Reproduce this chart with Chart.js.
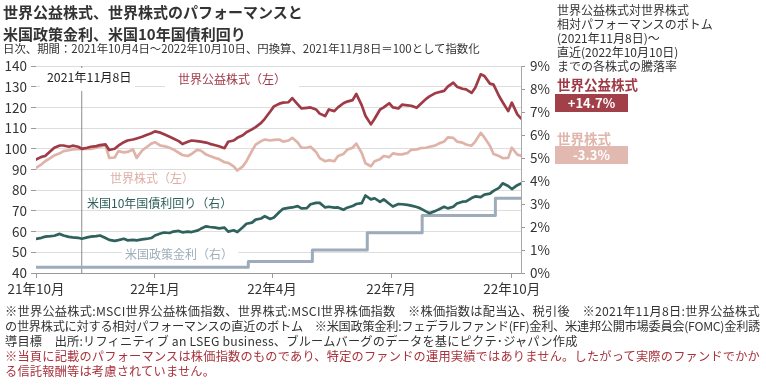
<!DOCTYPE html>
<html><head><meta charset="utf-8">
<script src="https://cdn.jsdelivr.net/npm/chart.js@4.4.1/dist/chart.umd.min.js"></script>
<style>
html,body{margin:0;padding:0;background:#fff}
body{width:766px;height:390px;position:relative;overflow:hidden;font-family:"Noto Sans CJK JP","Noto Sans",sans-serif;color:#333}
canvas{position:absolute;left:0;top:0}
.t{position:absolute;white-space:nowrap}
.box{position:absolute;background:#fff}
.badge{position:absolute;color:#fff;font-weight:bold;text-align:center}
</style></head>
<body>
<canvas id="c" width="766" height="390"></canvas>

<div class="t" style="left:3px;top:3px;font-size:15px;font-weight:bold;line-height:18px;color:#333">世界公益株式、世界株式のパフォーマンスと</div>
<div class="t" style="left:3px;top:25px;font-size:15px;font-weight:bold;line-height:18px;color:#333">米国政策金利、米国10年国債利回り</div>
<div class="t" style="left:3px;top:41px;font-size:11.4px;line-height:14px;color:#333">日次、期間：2021年10月4日～2022年10月10日、円換算、2021年11月8日＝100として指数化</div>

<div class="t" style="left:557px;top:3px;font-size:12px;line-height:14px;color:#333">世界公益株式対世界株式<br>相対パフォーマンスのボトム<br>(2021年11月8日)～<br>直近(2022年10月10日)<br>までの各株式の騰落率</div>
<div class="t" style="left:557px;top:76px;font-size:13.5px;font-weight:bold;line-height:16px;color:#9f3a47">世界公益株式</div>
<div class="badge" style="left:555px;top:94px;width:73px;height:18px;line-height:18px;font-size:13px;background:#a2404a">+14.7%</div>
<div class="t" style="left:557px;top:130px;font-size:13.5px;font-weight:bold;line-height:16px;color:#e0b5ab">世界株式</div>
<div class="badge" style="left:555px;top:146px;width:73px;height:18px;line-height:18px;font-size:13px;background:#e2b9b0">-3.3%</div>

<!-- in-chart labels -->
<div class="box" style="left:40px;top:68px;width:95px;height:23px"></div>
<div class="t" style="left:47px;top:69px;font-size:12.3px;line-height:16px;color:#222">2021年11月8日</div>
<div class="box" style="left:165px;top:68px;width:134px;height:23px"></div>
<div class="t" style="left:178px;top:71px;font-size:12px;line-height:16px;color:#9f3a47">世界公益株式（左）</div>
<div class="t" style="left:110px;top:170px;font-size:12px;line-height:16px;color:#dcaea4">世界株式（左）</div>
<div class="t" style="left:87px;top:195px;font-size:12px;line-height:16px;color:#2f5f5b">米国10年国債利回り（右）</div>
<div class="box" style="left:122px;top:246px;width:116px;height:16px"></div>
<div class="t" style="left:125px;top:246px;font-size:12px;line-height:16px;color:#9fadbb">米国政策金利（右）</div>

<div id="fn" class="t" style="left:5px;top:304px;font-size:12.2px;line-height:15px;color:#333">
<div class="fl" data-w="755">※世界公益株式:MSCI世界公益株価指数、世界株式:MSCI世界株価指数　※株価指数は配当込、税引後　※2021年11月8日:世界公益株式</div>
<div class="fl" data-w="755">の世界株式に対する相対パフォーマンスの直近のボトム　※米国政策金利:フェデラルファンド(FF)金利、米連邦公開市場委員会(FOMC)金利誘</div>
<div class="fl">導目標　出所:リフィニティブ an LSEG business、ブルームバーグのデータを基にピクテ･ジャパン作成</div>
<div class="fl" data-w="755" style="color:#a8323c">※当頁に記載のパフォーマンスは株価指数のものであり、特定のファンドの運用実績ではありません。したがって実際のファンドでかか</div>
<div class="fl" style="color:#a8323c">る信託報酬等は考慮されていません。</div>
</div>

<script>
// ---------- data ----------
const dates = [
'2021-10-04','2021-10-07','2021-10-11','2021-10-14','2021-10-18','2021-10-21','2021-10-25','2021-10-28',
'2021-11-01','2021-11-04','2021-11-08','2021-11-11','2021-11-15','2021-11-18','2021-11-22','2021-11-25',
'2021-11-29','2021-12-02','2021-12-06','2021-12-09','2021-12-13','2021-12-16','2021-12-20','2021-12-23',
'2021-12-27','2021-12-30','2022-01-03','2022-01-06','2022-01-10','2022-01-13','2022-01-17','2022-01-20',
'2022-01-24','2022-01-27','2022-01-31','2022-02-03','2022-02-07','2022-02-10','2022-02-14','2022-02-17',
'2022-02-21','2022-02-24','2022-02-28','2022-03-03','2022-03-07','2022-03-10','2022-03-14','2022-03-17',
'2022-03-21','2022-03-24','2022-03-28','2022-03-31','2022-04-04','2022-04-07','2022-04-11','2022-04-14',
'2022-04-18','2022-04-21','2022-04-25','2022-04-28','2022-05-02','2022-05-05','2022-05-09','2022-05-12',
'2022-05-16','2022-05-19','2022-05-23','2022-05-26','2022-05-30','2022-06-02','2022-06-06','2022-06-09',
'2022-06-13','2022-06-16','2022-06-20','2022-06-23','2022-06-27','2022-06-30','2022-07-04','2022-07-07',
'2022-07-11','2022-07-14','2022-07-18','2022-07-21','2022-07-25','2022-07-28','2022-08-01','2022-08-04',
'2022-08-08','2022-08-11','2022-08-15','2022-08-18','2022-08-22','2022-08-25','2022-08-29','2022-09-01',
'2022-09-05','2022-09-08','2022-09-12','2022-09-15','2022-09-19','2022-09-22','2022-09-26','2022-09-29',
'2022-10-03','2022-10-06','2022-10-10'];

// 世界公益株式 (left axis, 2021/11/8 = 100)
const utilities = [
94.8,96.1, 96.5,98.9, 100.5,101.6, 101.6,101.0, 101.5,101.0, 100.0,100.5, 101.0,101.3, 101.8,102.1,
99.4,100.0, 101.5,103.2, 104.0,104.5, 105.0,105.8, 106.5,107.5, 108.4,107.8, 107.0,105.8, 105.0,103.7,
102.3,103.4, 104.0,103.7, 103.5,103.0, 102.4,101.7, 101.2,100.3, 103.4,104.0, 105.3,106.5, 108.0,109.4,
110.5,112.5, 114.5,118.0, 120.5,121.8, 122.3,122.5, 124.5,121.5, 119.5,119.8, 120.0,119.0, 117.0,115.8,
119.0,118.2, 120.0,122.0, 122.8,123.5, 126.5,121.0, 116.0,111.8, 114.5,119.0, 120.0,122.0, 120.0,119.5,
121.3,121.0, 120.8,119.8, 121.5,124.0, 125.3,126.8, 127.3,128.0, 130.0,132.0, 130.0,129.0, 128.7,127.0,
129.5,136.0, 135.2,131.5, 131.0,125.5, 122.5,118.2, 122.3,116.6, 114.7];

// 世界株式 (left axis)
const world = [
90.8,92.5, 94.0,95.6, 96.8,97.8, 98.9,99.3, 99.7,99.8, 100.0,100.0, 100.0,100.5, 101.0,101.6,
95.6,95.8, 98.9,98.3, 98.5,99.7, 95.6,99.2, 100.5,102.5, 103.2,101.5, 101.3,100.5, 99.7,98.1,
97.0,96.5, 97.5,99.5, 99.2,97.2, 96.5,95.6, 95.0,93.5, 93.2,91.5, 89.5,91.5, 94.0,99.0,
102.0,103.7, 104.5,104.0, 104.3,104.5, 103.5,104.0, 105.3,103.0, 100.5,100.5, 101.0,98.5, 95.5,94.0,
94.5,94.0, 96.5,97.5, 99.5,100.5, 102.5,98.0, 93.0,91.6, 94.0,95.0, 96.5,96.0, 97.8,97.3,
97.3,98.0, 99.5,99.7, 100.3,100.5, 101.0,101.5, 102.5,103.5, 105.5,105.3, 103.5,103.0, 102.1,101.5,
103.5,107.7, 105.5,101.5, 97.5,96.5, 95.5,95.6, 100.5,97.2, 96.7];

// 米国10年国債利回り (right axis, %)
const ust10y = [
1.48,1.53, 1.58,1.60, 1.62,1.70, 1.63,1.57, 1.55,1.53, 1.49,1.55, 1.58,1.60, 1.63,1.52,
1.44,1.40, 1.43,1.49, 1.42,1.44, 1.42,1.46, 1.48,1.52, 1.63,1.72, 1.76,1.74, 1.80,1.83,
1.77,1.80, 1.78,1.84, 1.92,2.03, 2.00,1.97, 1.94,1.97, 1.80,1.86, 1.78,1.99, 2.14,2.19,
2.32,2.37, 2.47,2.35, 2.41,2.65, 2.79,2.83, 2.85,2.91, 2.81,2.82, 2.99,3.05, 3.05,2.85,
2.88,2.84, 2.85,2.75, 2.84,2.91, 3.00,3.04, 3.37,3.20, 3.25,3.09, 3.20,3.01, 2.89,3.00,
2.99,2.96, 2.93,2.87, 2.81,2.68, 2.60,2.69, 2.76,2.88, 2.81,2.88, 3.02,3.10, 3.11,3.26,
3.33,3.30, 3.41,3.45, 3.57,3.70, 3.90,3.78, 3.65,3.82, 3.89];

// 米国政策金利 (FF target upper bound, right axis, %)
const policyDates = ['2021-10-04','2022-03-15','2022-05-03','2022-06-14','2022-07-26','2022-09-20','2022-10-10'];
const policyRate  = [0.25, 0.50, 1.00, 1.75, 2.50, 3.25, 3.25];

const markerDate = '2021-11-08';
const xTickDates  = ['2021-10-04','2022-01-03','2022-04-01','2022-07-01','2022-10-03'];
const xTickLabels = ['21年10月','22年1月','22年4月','22年7月','22年10月'];

// business-day index from start date
function wd(s){
  const base = Date.UTC(2021,9,4);
  const p = s.split('-').map(Number);
  const days = Math.round((Date.UTC(p[0],p[1]-1,p[2]) - base)/86400000);
  return Math.floor(days/7)*5 + Math.min(days%7,5);
}
const pts = (ds, vs) => ds.map((d,i)=>({x:wd(d), y:vs[i]}));

const tickFont = {family:'"Noto Sans CJK JP", sans-serif', size:13.5};

new Chart(document.getElementById('c'), {
  type:'line',
  data:{datasets:[
    {data:pts(dates,utilities), borderColor:'#9f3a47', borderWidth:2.7, yAxisID:'y', order:1},
    {data:pts(dates,world), borderColor:'#dfb3a8', borderWidth:2.7, yAxisID:'y', order:2},
    {data:pts(dates,ust10y), borderColor:'#2f615d', borderWidth:2.7, yAxisID:'y2', order:3},
    {data:pts(policyDates,policyRate), borderColor:'#9dabbb', borderWidth:3, stepped:'before', yAxisID:'y2', order:4},
    {data:[{x:wd(markerDate),y:40},{x:wd(markerDate),y:140}], borderColor:'#8a8a8a', borderWidth:1, yAxisID:'y', order:9}
  ]},
  options:{
    responsive:false, animation:false, devicePixelRatio:1,
    layout:{padding:{top:66,left:0,right:0,bottom:0}},
    plugins:{legend:{display:false}, tooltip:{enabled:false}},
    elements:{point:{radius:0}, line:{tension:0, borderCapStyle:'round', borderJoinStyle:'round'}},
    scales:{
      x:{type:'linear', position:'bottom', min:0, max:wd('2022-10-10'),
         afterFit(s){s.height=117;},
         afterBuildTicks(s){s.ticks = xTickDates.map(d=>({value:wd(d)}));},
         ticks:{autoSkip:false, maxRotation:0, padding:3, color:'#333', font:tickFont,
                callback(v){const i = xTickDates.findIndex(d=>wd(d)===v); return i<0?'':xTickLabels[i];}},
         grid:{drawOnChartArea:false, drawTicks:true, tickLength:5, color:'#9a9a9a'},
         border:{display:true, color:'#9a9a9a'}},
      y:{position:'left', min:40, max:140,
         afterFit(s){s.width=36;},
         ticks:{stepSize:10, padding:4, color:'#333', font:tickFont},
         grid:{color:'#dedede', tickLength:5, tickColor:'#9a9a9a'},
         border:{display:false}},
      y2:{position:'right', min:0, max:9,
         afterFit(s){s.width=245;},
         ticks:{stepSize:1, padding:5, color:'#333', font:tickFont, callback:v=>v+'%'},
         grid:{drawOnChartArea:false, tickLength:4, color:'#9a9a9a'},
         border:{display:true, color:'#a8a8a8'}}
    }
  }
});

// fit footnote lines to their measured widths
(function(){
  const lines = document.querySelectorAll('#fn .fl');
  let ls = 0;
  lines.forEach(el=>{
    const w = el.dataset.w;
    if(!w) return;
    el.style.display='inline-block';
    const nat = el.getBoundingClientRect().width;
    const n = el.textContent.length;
    const s = (w - nat)/n;
    el.style.letterSpacing = s+'px';
    el.style.display='block';
    ls = s;
  });
  lines.forEach(el=>{ if(!el.dataset.w) el.style.letterSpacing = ls+'px'; });
})();
</script>
</body></html>
